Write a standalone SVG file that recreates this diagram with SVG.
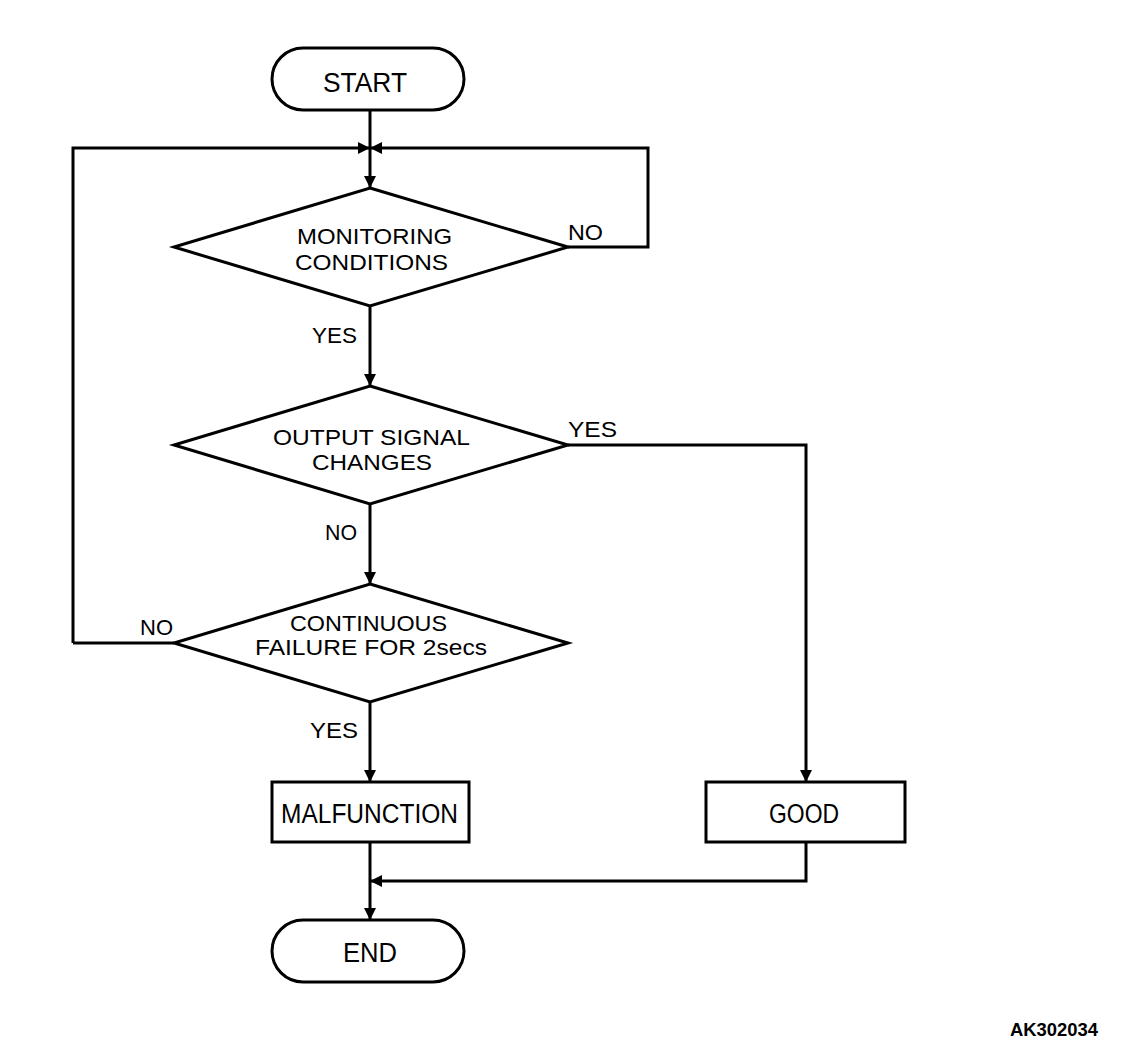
<svg xmlns="http://www.w3.org/2000/svg" width="1136" height="1060" viewBox="0 0 1136 1060">
<defs>
<marker id="ah" viewBox="0 0 12 12" refX="12" refY="6" markerWidth="12" markerHeight="12" markerUnits="userSpaceOnUse" orient="auto">
<path d="M0,0 L12,6 L0,12 Z" fill="#000"/>
</marker>
</defs>
<style>
.s{fill:#fff;stroke:#000;stroke-width:3}
.c{fill:none;stroke:#000;stroke-width:3}
text{font-family:"Liberation Sans",Arial,sans-serif;font-size:22px;fill:#000}
.b{font-size:27px}
</style>
<rect width="1136" height="1060" fill="#fff"/>
<g id="connectors">
<path class="c" d="M370,110 V188" marker-end="url(#ah)"/>
<path class="c" d="M73,643 V148 H370" marker-end="url(#ah)"/>
<path class="c" d="M568,247 H648 V148 H370" marker-end="url(#ah)"/>
<path class="c" d="M370,306 V386" marker-end="url(#ah)"/>
<path class="c" d="M370,504 V584" marker-end="url(#ah)"/>
<path class="c" d="M568,445 H806 V782" marker-end="url(#ah)"/>
<path class="c" d="M174,643 H73"/>
<path class="c" d="M370,702 V782" marker-end="url(#ah)"/>
<path class="c" d="M370,842 V920" marker-end="url(#ah)"/>
<path class="c" d="M806,842 V881 H370" marker-end="url(#ah)"/>
<text x="568" y="240" textLength="35" lengthAdjust="spacingAndGlyphs">NO</text>
<text x="312" y="343" textLength="45" lengthAdjust="spacingAndGlyphs">YES</text>
<text x="568" y="437" textLength="49" lengthAdjust="spacingAndGlyphs">YES</text>
<text x="325" y="540" textLength="32" lengthAdjust="spacingAndGlyphs">NO</text>
<text x="140" y="635" textLength="33" lengthAdjust="spacingAndGlyphs">NO</text>
<text x="310" y="738" textLength="48" lengthAdjust="spacingAndGlyphs">YES</text>
</g>
<g id="start">
<rect class="s" x="272" y="48" width="192" height="62" rx="31"/>
<text class="b" x="323" y="92" textLength="84" lengthAdjust="spacingAndGlyphs">START</text>
</g>
<g id="monitoring">
<path class="s" d="M370,188 L568,247 L370,306 L174,247 Z"/>
<text x="297" y="244" textLength="155" lengthAdjust="spacingAndGlyphs">MONITORING</text>
<text x="295" y="270" textLength="153" lengthAdjust="spacingAndGlyphs">CONDITIONS</text>
</g>
<g id="output">
<path class="s" d="M370,386 L568,445 L370,504 L174,445 Z"/>
<text x="273" y="445" textLength="197" lengthAdjust="spacingAndGlyphs">OUTPUT SIGNAL</text>
<text x="312" y="470" textLength="120" lengthAdjust="spacingAndGlyphs">CHANGES</text>
</g>
<g id="continuous">
<path class="s" d="M370,584 L568,643 L370,702 L174,643 Z"/>
<text x="290" y="631" textLength="157" lengthAdjust="spacingAndGlyphs">CONTINUOUS</text>
<text x="255" y="655" textLength="232" lengthAdjust="spacingAndGlyphs">FAILURE FOR 2secs</text>
</g>
<g id="malfunction">
<rect class="s" x="272" y="782" width="197" height="60"/>
<text class="b" x="281" y="823" textLength="177" lengthAdjust="spacingAndGlyphs">MALFUNCTION</text>
</g>
<g id="good">
<rect class="s" x="706" y="782" width="199" height="60"/>
<text class="b" x="769" y="823" textLength="70" lengthAdjust="spacingAndGlyphs">GOOD</text>
</g>
<g id="end">
<rect class="s" x="272" y="920" width="192" height="62" rx="31"/>
<text class="b" x="343" y="962" textLength="54" lengthAdjust="spacingAndGlyphs">END</text>
</g>
<text x="1010" y="1036" textLength="88" lengthAdjust="spacingAndGlyphs" style="font-size:18px;font-weight:bold">AK302034</text>
</svg>
